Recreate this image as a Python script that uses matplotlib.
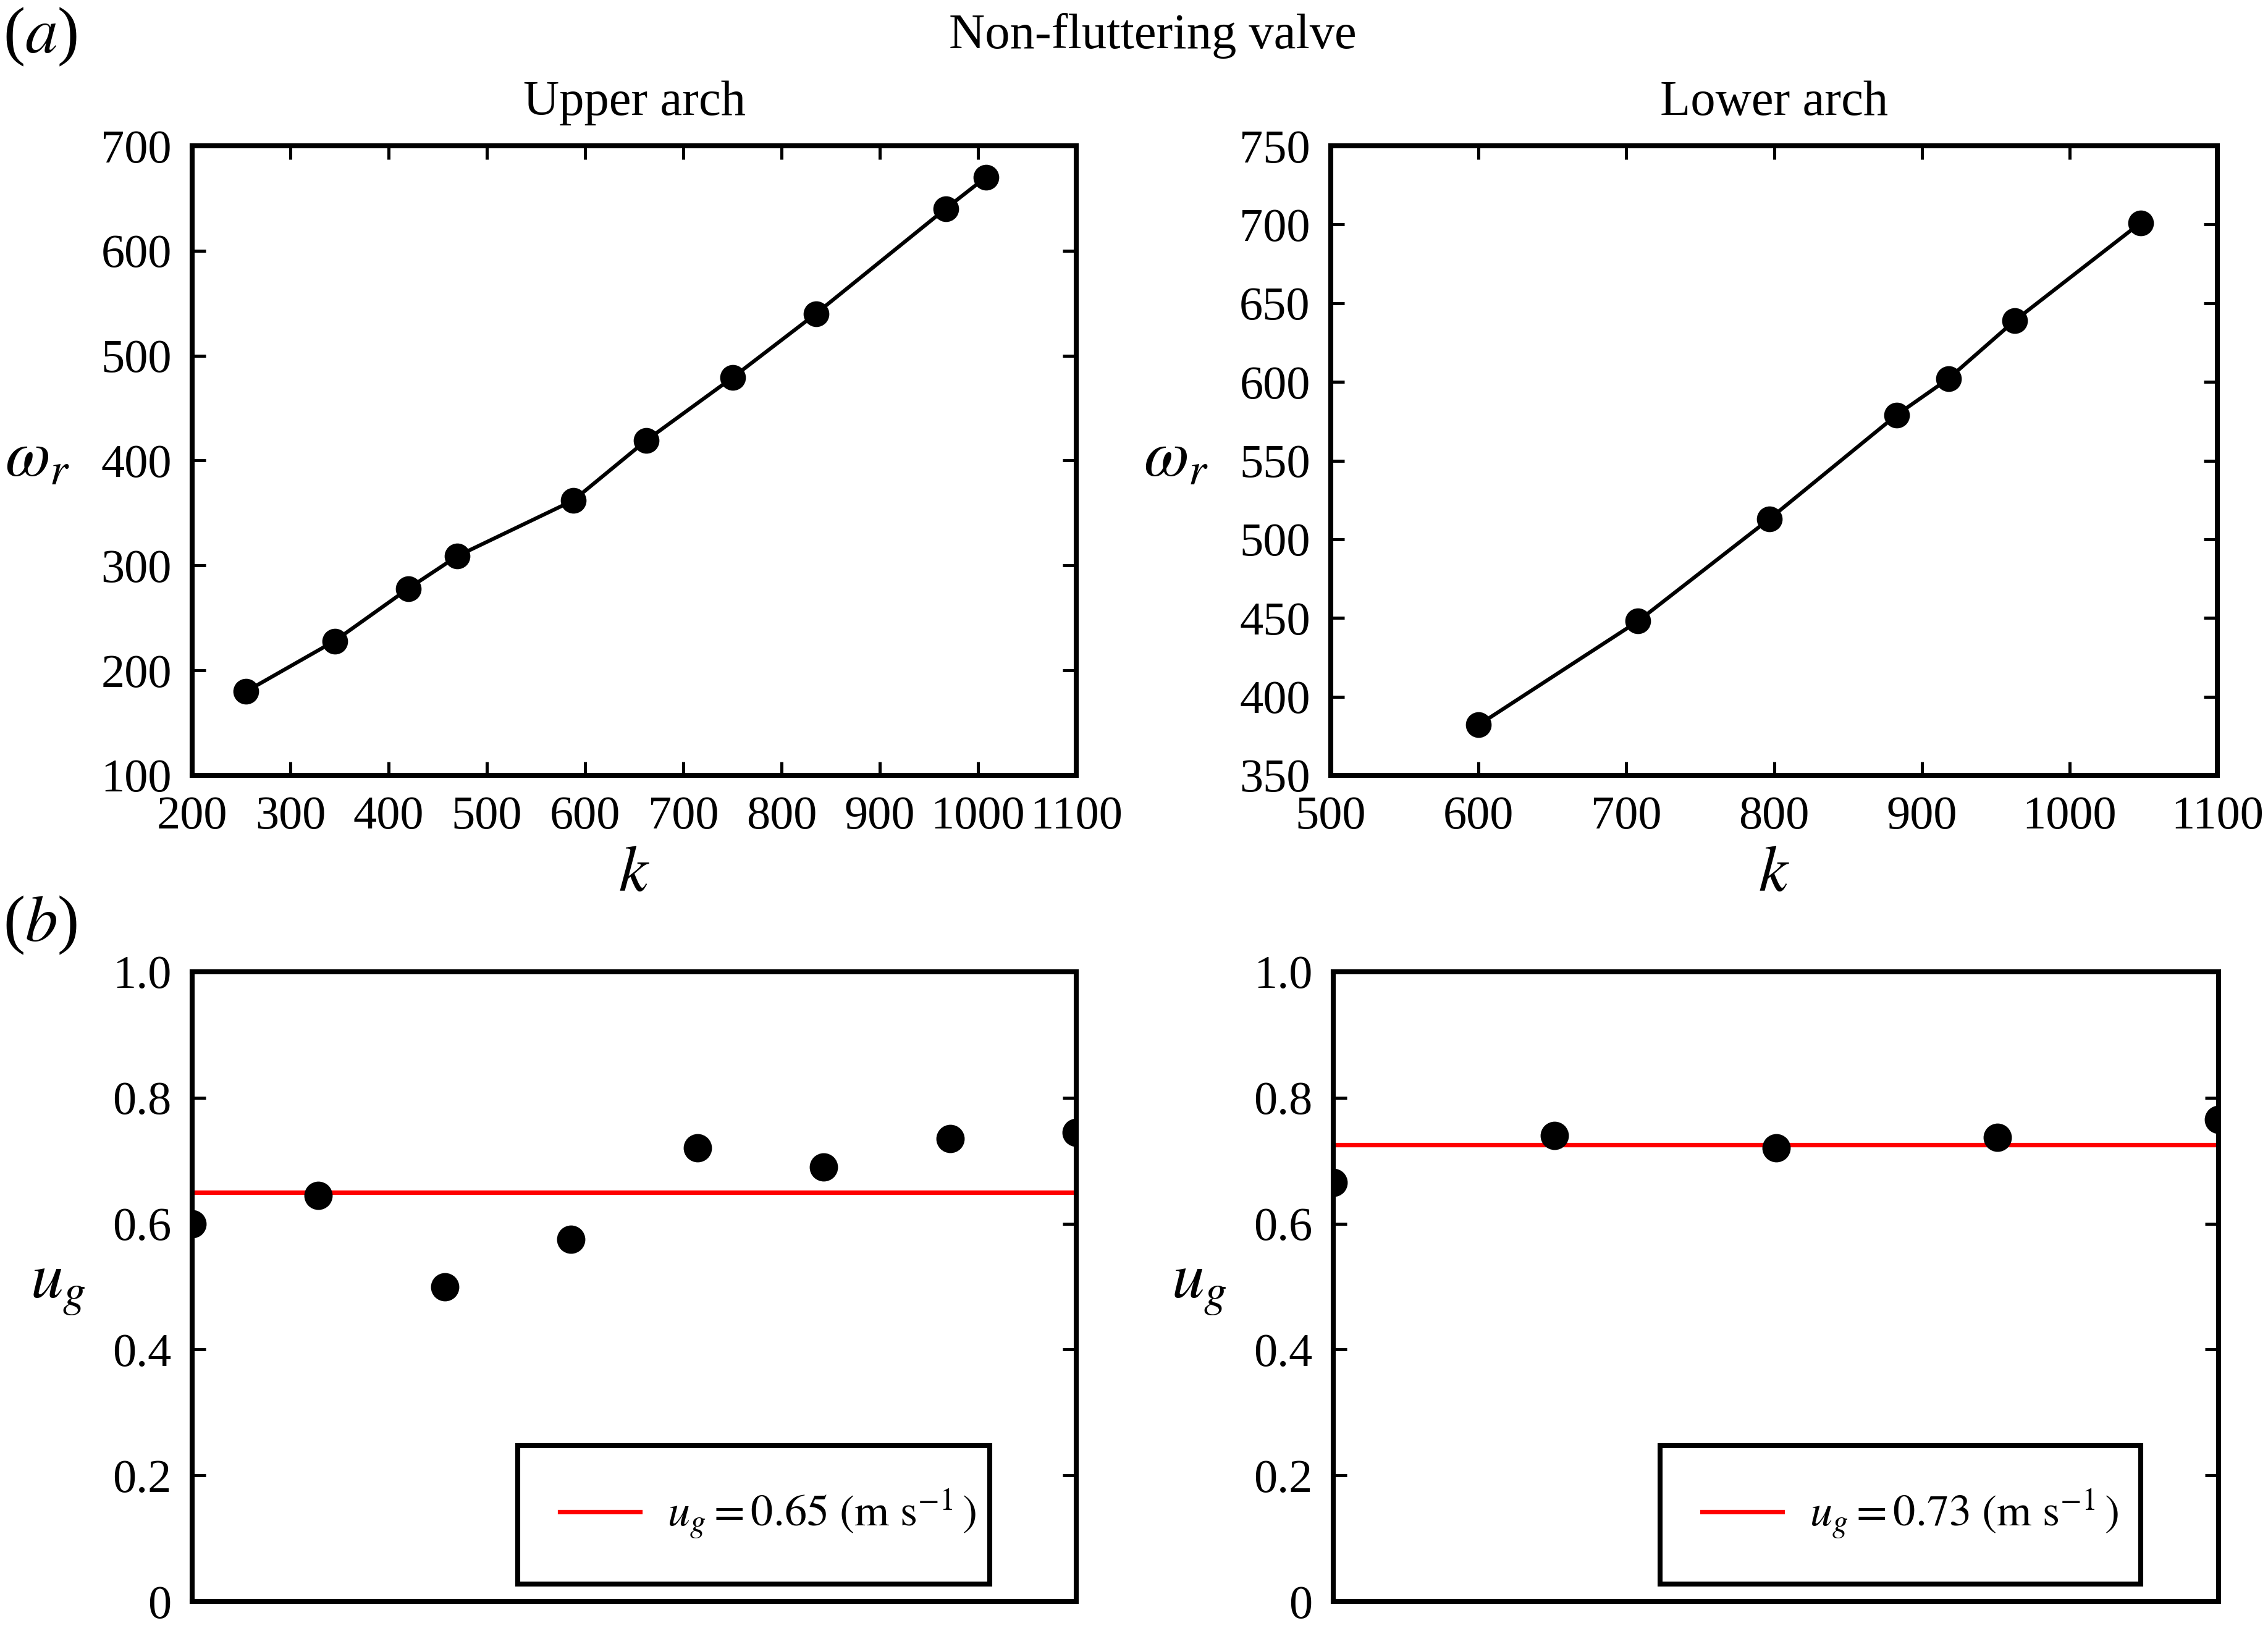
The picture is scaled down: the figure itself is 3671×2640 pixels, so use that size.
import matplotlib
matplotlib.use('Agg')
import matplotlib.pyplot as plt
import numpy as np
from matplotlib.ticker import FuncFormatter

plt.rcParams['font.family'] = ['Liberation Serif', 'DejaVu Serif']
plt.rcParams['mathtext.fontset'] = 'stix'

# upper arch: k vs omega_r
k_upper = [255, 345, 420, 470, 588, 662, 750, 835, 967, 1008]
w_upper = [180, 228, 278, 309, 362, 419, 479, 540, 640, 670]

# lower arch: k vs omega_r
k_lower = [600, 708, 797, 883, 918, 963, 1048]
w_lower = [382, 448, 513, 579, 602, 639, 701]

# gust speeds and their means
ug_upper = [0.60, 0.645, 0.50, 0.575, 0.72, 0.69, 0.735, 0.745]
ug_lower = [0.665, 0.74, 0.72, 0.737, 0.765]
ug_upper_mean = 0.65
ug_lower_mean = 0.725
ug_upper_label = r'$u_g = 0.65\ (\mathrm{m\ s}^{-1}\,)$'
ug_lower_label = r'$u_g = 0.73\ (\mathrm{m\ s}^{-1}\,)$'

fig = plt.figure(figsize=(18.355, 13.2), dpi=200)
W, H = 3671, 2640

def box(x0, x1, y0, y1):
    return [x0 / W, 1 - y1 / H, (x1 - x0) / W, (y1 - y0) / H]

ax1 = fig.add_axes(box(311, 1742, 236, 1255))
ax2 = fig.add_axes(box(2154, 3589, 236, 1255))
ax3 = fig.add_axes(box(311, 1742, 1573, 2592))
ax4 = fig.add_axes(box(2158, 3591, 1573, 2592))

tick_fs = 27.5
lab_fs = 38

for ax in (ax1, ax2, ax3, ax4):
    for s in ax.spines.values():
        s.set_linewidth(2.9)
    ax.tick_params(direction='in', length=8, width=1.8, labelsize=tick_fs,
                   top=True, right=True, pad=12)

# (a) panels
ax1.plot(k_upper, w_upper, '-', color='black', lw=2.2)
ax1.plot(k_upper, w_upper, 'o', color='black', ms=14)
ax1.set_xlim(200, 1100)
ax1.set_ylim(100, 700)
ax1.set_xticks(np.arange(200, 1101, 100))
ax1.set_yticks(np.arange(100, 701, 100))

ax2.plot(k_lower, w_lower, '-', color='black', lw=2.2)
ax2.plot(k_lower, w_lower, 'o', color='black', ms=14)
ax2.set_xlim(500, 1100)
ax2.set_ylim(350, 750)
ax2.set_xticks(np.arange(500, 1101, 100))
ax2.set_yticks(np.arange(350, 751, 50))

for ax in (ax1, ax2):
    ax.set_xlabel('$k$', fontsize=lab_fs, labelpad=4)
    ax.set_ylabel(r'$\omega_r$', fontsize=lab_fs, rotation=0, labelpad=37, va='center')

ax1.set_title('Upper arch', fontsize=29, pad=18)
ax2.set_title('Lower arch', fontsize=29, pad=18)

# (b) panels
fmt = FuncFormatter(lambda v, p: '0' if abs(v) < 1e-9 else '%.1f' % v)
for ax, vals, mean, lab in ((ax3, ug_upper, ug_upper_mean, ug_upper_label),
                            (ax4, ug_lower, ug_lower_mean, ug_lower_label)):
    x = np.arange(len(vals))
    ax.plot(x, vals, 'o', color='black', ms=15.5, zorder=3)
    ax.axhline(mean, color='red', lw=2.6, label=lab, zorder=2)
    ax.set_xlim(0, len(vals) - 1)
    ax.set_ylim(0, 1.0)
    ax.set_yticks(np.arange(0, 1.01, 0.2))
    ax.yaxis.set_major_formatter(fmt)
    ax.tick_params(axis='x', bottom=False, top=False, labelbottom=False)
    ax.set_ylabel('$u_g$', fontsize=lab_fs, rotation=0, labelpad=32, va='center')

leg_kw = dict(loc='center', mode='expand', fontsize=26, fancybox=False,
              edgecolor='black', framealpha=1, handlelength=1.8,
              handletextpad=0.6, borderpad=0.95, borderaxespad=0)
l3 = ax3.legend(bbox_to_anchor=(0.368, 0.049, 0.534, 0.177), **leg_kw)
l4 = ax4.legend(bbox_to_anchor=(0.369, 0.049, 0.543, 0.177), **leg_kw)
for lg in (l3, l4):
    lg.get_frame().set_linewidth(2.9)

fig.text(1866 / W, 1 - 58 / H, 'Non-fluttering valve', fontsize=29,
         ha='center', va='center')
fig.text(5 / W, 1 - 60 / H, '($a$)', fontsize=lab_fs, ha='left', va='center')
fig.text(5 / W, 1 - 1498 / H, '($b$)', fontsize=lab_fs, ha='left', va='center')

fig.savefig('out.png', dpi=200, facecolor='white')
